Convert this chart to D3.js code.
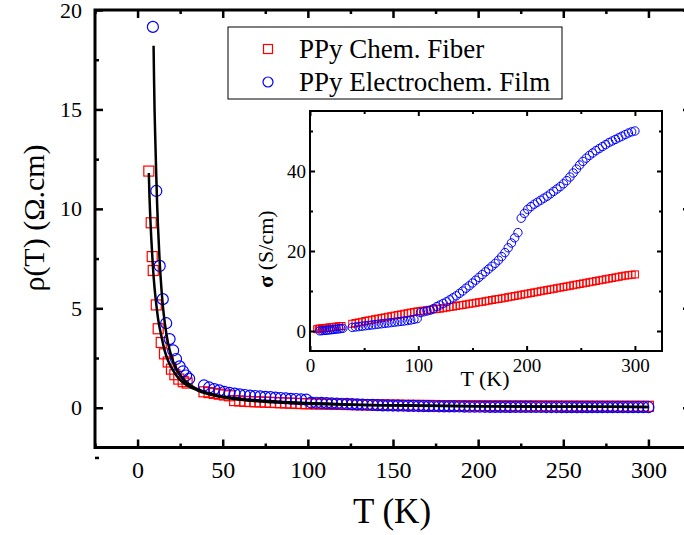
<!DOCTYPE html>
<html>
<head>
<meta charset="utf-8">
<script src="https://cdn.jsdelivr.net/npm/d3@7"></script>
<style>
  body { margin:0; background:#fff; }
  .canvas { width:684px; height:535px; overflow:hidden; }
</style>
</head>
<body>
<div class="canvas" id="canvas"></div>
<script>
//data
var tempFiberLow = [6.6, 8.0, 8.6, 9.2, 11.0, 12.1, 13.9, 15.8, 18.0, 19.9, 21.9, 24.2, 26.8, 29.1];
var rhoFiberLow = [11.9, 9.3, 7.6, 6.9, 5.17, 3.97, 3.28, 2.71, 2.3, 1.94, 1.66, 1.44, 1.31, 1.24];
var sigmaFiberLow = [0.45, 0.5, 0.55, 0.6, 0.65, 0.7, 0.75, 0.8, 0.9, 0.95, 1.0, 1.1, 1.2, 1.25];

var tempFilmLow = [9.0, 11.0, 13.0, 14.8, 16.8, 18.8, 20.9, 22.6, 24.7, 26.7, 28.5, 30.3];
var rhoFilmLow = [19.15, 10.9, 7.13, 5.46, 4.25, 3.45, 2.88, 2.45, 2.08, 1.83, 1.62, 1.46];
var sigmaFilmLow = [0.05, 0.09, 0.14, 0.18, 0.24, 0.29, 0.35, 0.41, 0.48, 0.55, 0.62, 0.68];

var tempHigh = [39,42,45,48,51,54,57,60,63,66,69,72,75,78,81,84,87,90,93,96,99,
  102,105,108,111,114,117,120,123,126,129,132,135,138,141,144,147,150,153,156,159,
  162,165,168,171,174,177,180,183,186,189,192,195,198,201,204,207,210,213,216,219,
  222,225,228,231,234,237,240,243,246,249,252,255,258,261,264,267,270,273,276,279,
  282,285,288,291,294,297,300];

var rhoFiberHigh = [0.8,0.76,0.72,0.68,0.64,0.6,0.36,0.34,0.32,0.31,0.3,0.29,0.28,0.27,0.26,0.25,0.24,0.23,0.22,0.21,0.2,
  0.2,0.19,0.19,0.18,0.18,0.17,0.17,0.16,0.16,0.15,0.15,0.15,0.14,0.14,0.14,0.13,0.13,0.13,
  0.12,0.12,0.118,0.116,0.114,0.112,0.11,0.108,0.106,0.104,0.102,0.1,0.099,0.098,0.097,0.096,0.095,0.094,0.093,0.092,
  0.091,0.09,0.089,0.088,0.087,0.086,0.085,0.084,0.083,0.082,0.081,0.08,0.079,0.078,0.078,0.077,0.077,0.076,0.076,0.075,
  0.075,0.074,0.074,0.073,0.073,0.072,0.072,0.071,0.071];

var rhoFilmHigh = [1.12,1.02,0.94,0.87,0.8,0.75,0.71,0.67,0.64,0.61,0.59,0.57,0.55,0.53,0.51,0.49,0.47,0.45,0.44,0.42,0.41,
  0.26,0.25,0.24,0.23,0.22,0.21,0.2,0.19,0.18,0.17,0.16,0.15,0.14,0.13,0.12,0.115,0.11,0.105,0.1,0.095,
  0.09,0.085,0.08,0.078,0.075,0.072,0.07,0.067,0.064,0.061,0.058,
  0.05,0.049,0.048,0.047,0.046,0.045,0.044,0.043,0.042,0.041,0.04,0.039,0.038,0.037,0.036,0.035,0.034,0.034,0.033,0.033,
  0.032,0.032,0.031,0.031,0.03,0.03,0.03,0.029,0.029,0.028,0.028,0.028,0.027,0.027,0.027,0.026];

var sigmaFiberHigh = [1.8,2.0,2.15,2.3,2.5,2.65,2.8,2.95,3.1,3.25,3.4,3.55,3.7,3.85,4.0,4.15,4.3,4.45,4.6,4.75,4.9,
  5.0,5.1,5.2,5.3,5.4,5.5,5.6,5.7,5.85,6.0,6.1,6.25,6.4,6.5,6.65,6.8,6.9,7.05,7.2,7.3,
  7.45,7.6,7.75,7.9,8.0,8.15,8.3,8.45,8.6,8.75,8.9,
  9.05,9.2,9.35,9.5,9.65,9.8,9.95,10.1,10.25,10.4,10.55,10.7,10.85,11.0,11.15,11.3,11.45,11.6,11.75,11.9,
  12.05,12.2,12.35,12.5,12.65,12.8,12.95,13.1,13.25,13.4,13.55,13.7,13.85,13.95,14.05,14.15];

var sigmaFilmHigh = [0.9,1.0,1.1,1.2,1.3,1.4,1.5,1.6,1.7,1.8,1.9,2.0,2.1,2.2,2.3,2.4,2.5,2.6,2.75,2.9,3.1,
  4.6,4.8,5.0,5.2,5.6,6.1,6.5,6.9,7.3,7.8,8.3,8.8,9.4,10.0,10.7,11.3,12.0,12.7,13.4,14.1,
  14.8,15.5,16.2,16.9,17.7,18.6,19.6,20.8,22.0,23.3,24.6,
  28.2,29.4,30.4,31.1,31.7,32.2,32.7,33.2,33.7,34.3,34.9,35.5,36.1,36.8,37.6,38.5,39.5,40.5,41.5,42.4,
  43.2,43.9,44.5,45.1,45.6,46.1,46.6,47.1,47.5,47.9,48.3,48.7,49.1,49.5,49.8,50.0];

//fit curves (black lines)
var fitFiberT = [6.6,7,7.5,8,9,10,11,12,14,16,18,20,23,26,30,35,40,50,60,80,100,130,160,200,250,300];
var fitFiberRho = [11.8,10.6,9.5,8.6,7.1,6.0,5.2,4.5,3.6,2.85,2.35,2.0,1.6,1.32,1.08,0.88,0.72,0.52,0.4,0.27,0.2,0.14,0.1,0.07,0.05,0.04];
var fitFilmT = [9.4,9.7,10,10.5,11,11.5,12,13,14,15,16,18,20,22,25,28,32,37,45,55,70,90,120,160,200,250,300];
var fitFilmRho = [18.2,16.4,14.9,13.2,11.6,10.2,9.1,7.3,6.0,5.0,4.25,3.2,2.55,2.1,1.65,1.35,1.08,0.87,0.66,0.5,0.37,0.27,0.18,0.12,0.08,0.06,0.04];

//ticks and labels
var mainXTicks = [0,50,100,150,200,250,300];
var mainXMinor = [-25,25,75,125,175,225,275];
var mainYTicks = [0,5,10,15,20];
var mainYMinor = [-2.5,2.5,7.5,12.5,17.5];
var insetXTicks = [0,100,200,300];
var insetXMinor = [50,150,250];
var insetYTicks = [0,20,40];
var insetYMinor = [10,30,50];
var legendLabels = ['PPy Chem. Fiber','PPy Electrochem. Film'];

var RED = '#ff0000', BLUE = '#0000ff';
var SERIF = 'Liberation Serif';

function zip(t, v){
  return t.map(function(d,i){ return {t:d, v:v[i]}; });
}

var fiberMain = zip(tempFiberLow, rhoFiberLow).concat(zip(tempHigh, rhoFiberHigh));
var filmMain = zip(tempFilmLow, rhoFilmLow).concat(zip(tempHigh, rhoFilmHigh));
var fiberInset = zip(tempFiberLow, sigmaFiberLow).concat(zip(tempHigh, sigmaFiberHigh));
var filmInset = zip(tempFilmLow, sigmaFilmLow).concat(zip(tempHigh, sigmaFilmHigh));

var outerWidth = 684, outerHeight = 535;

var svg = d3.select('.canvas')
  .append('svg')
  .attr('width', outerWidth)
  .attr('height', outerHeight)
  .attr('font-family', SERIF);

//main plot
var scaleX = d3.scaleLinear().domain([-25, 325]).range([95, 691]);
var scaleY = d3.scaleLinear().domain([-2, 20]).range([447.5, 10]);

function drawAxes(g, sx, sy, o){
  var x0 = sx.range()[0], x1 = sx.range()[1], y0 = sy.range()[0], y1 = sy.range()[1];
  var axes = [
    {ax: d3.axisBottom(sx), tr: 'translate(0,' + y0 + ')', major: o.xt, minor: o.xm, lab: true},
    {ax: d3.axisTop(sx), tr: 'translate(0,' + y1 + ')', major: o.xt, minor: o.xm, lab: false},
    {ax: d3.axisLeft(sy), tr: 'translate(' + x0 + ',0)', major: o.yt, minor: o.ym, lab: true},
    {ax: d3.axisRight(sy), tr: 'translate(' + x1 + ',0)', major: o.yt, minor: o.ym, lab: false}
  ];
  axes.forEach(function(a, i){
    var isX = i < 2;
    var major = g.append('g')
      .attr('transform', a.tr)
      .call(a.ax.tickValues(a.major).tickSizeInner(-o.tick).tickSizeOuter(0)
        .tickPadding(isX ? o.padX : o.padY)
        .tickFormat(a.lab ? d3.format('d') : ''));
    major.attr('font-family', SERIF).attr('font-size', isX ? o.fsX : o.fsY);
    major.select('.domain').remove();
    major.selectAll('line').attr('stroke-width', o.lw);
    var minor = g.append('g')
      .attr('transform', a.tr)
      .call(a.ax.tickValues(a.minor).tickSizeInner(-o.minorTick).tickFormat(''));
    minor.select('.domain').remove();
    minor.selectAll('line').attr('stroke-width', o.lw);
  });
  g.append('rect')
    .attr('x', x0).attr('y', y1)
    .attr('width', x1 - x0).attr('height', y0 - y1)
    .attr('fill', 'none')
    .attr('stroke', '#000')
    .attr('stroke-width', o.frame);
}

var main = svg.append('g');

drawAxes(main, scaleX, scaleY, {
  xt: mainXTicks, xm: mainXMinor, yt: mainYTicks, ym: mainYMinor,
  tick: 8, minorTick: 4, lw: 2.5, frame: 3, padX: 13, padY: 13, fsX: 24, fsY: 22
});

//markers: squares first, then circles, then fits on top
main.append('g').selectAll('rect')
  .data(fiberMain)
  .enter()
  .append('rect')
  .attr('x', function(d){ return scaleX(d.t) - 5; })
  .attr('y', function(d){ return scaleY(d.v) - 5; })
  .attr('width', 10)
  .attr('height', 10)
  .attr('fill', 'none')
  .attr('stroke', RED)
  .attr('stroke-width', 1.2);

main.append('g').selectAll('circle')
  .data(filmMain)
  .enter()
  .append('circle')
  .attr('cx', function(d){ return scaleX(d.t); })
  .attr('cy', function(d){ return scaleY(d.v); })
  .attr('r', 5.5)
  .attr('fill', 'none')
  .attr('stroke', BLUE)
  .attr('stroke-width', 1.2);

var fitLine = d3.line()
  .x(function(d){ return scaleX(d.t); })
  .y(function(d){ return scaleY(d.v); })
  .curve(d3.curveMonotoneX);

[zip(fitFiberT, fitFiberRho), zip(fitFilmT, fitFilmRho)].forEach(function(f){
  main.append('path')
    .datum(f)
    .attr('d', fitLine)
    .attr('fill', 'none')
    .attr('stroke', '#000')
    .attr('stroke-width', 2.5);
});

//axis titles
main.append('text')
  .attr('x', 392)
  .attr('y', 523)
  .attr('text-anchor', 'middle')
  .attr('font-size', 35)
  .text('T (K)');

main.append('text')
  .attr('transform', 'translate(44,218) rotate(-90)')
  .attr('text-anchor', 'middle')
  .attr('font-size', 30)
  .text('ρ(T) (Ω.cm)');

//legend
var legend = main.append('g');
legend.append('rect')
  .attr('x', 228).attr('y', 27)
  .attr('width', 334).attr('height', 72)
  .attr('fill', '#fff')
  .attr('stroke', '#000')
  .attr('stroke-width', 1);

var items = legend.selectAll('.item')
  .data(legendLabels)
  .enter()
  .append('g')
  .attr('class', 'item')
  .attr('transform', function(d, i){ return 'translate(268,' + (49 + i * 33) + ')'; });

items.filter(function(d, i){ return i === 0; })
  .append('rect')
  .attr('x', -4.5).attr('y', -4.5)
  .attr('width', 9).attr('height', 9)
  .attr('fill', 'none').attr('stroke', RED).attr('stroke-width', 1.2);

items.filter(function(d, i){ return i === 1; })
  .append('circle')
  .attr('r', 5)
  .attr('fill', 'none').attr('stroke', BLUE).attr('stroke-width', 1.2);

items.append('text')
  .attr('x', 31)
  .attr('y', 9)
  .attr('font-size', 27)
  .text(function(d){ return d; });

//inset
var insetX = d3.scaleLinear().domain([0, 325]).range([310, 662]);
var insetY = d3.scaleLinear().domain([-5, 55]).range([351, 111]);

var inset = svg.append('g');
inset.append('rect')
  .attr('x', 310).attr('y', 111)
  .attr('width', 352).attr('height', 240)
  .attr('fill', '#fff');

inset.append('g').selectAll('rect')
  .data(fiberInset)
  .enter()
  .append('rect')
  .attr('x', function(d){ return insetX(d.t) - 3.5; })
  .attr('y', function(d){ return insetY(d.v) - 3.5; })
  .attr('width', 7)
  .attr('height', 7)
  .attr('fill', 'none')
  .attr('stroke', RED)
  .attr('stroke-width', 1);

inset.append('g').selectAll('circle')
  .data(filmInset)
  .enter()
  .append('circle')
  .attr('cx', function(d){ return insetX(d.t); })
  .attr('cy', function(d){ return insetY(d.v); })
  .attr('r', 4.2)
  .attr('fill', 'none')
  .attr('stroke', BLUE)
  .attr('stroke-width', 1);

drawAxes(inset, insetX, insetY, {
  xt: insetXTicks, xm: insetXMinor, yt: insetYTicks, ym: insetYMinor,
  tick: 5, minorTick: 3, lw: 2, frame: 2, padX: 8, padY: 4, fsX: 19, fsY: 19
});

inset.append('text')
  .attr('x', 485)
  .attr('y', 386)
  .attr('text-anchor', 'middle')
  .attr('font-size', 22)
  .text('T (K)');

var sigLabel = inset.append('text')
  .attr('transform', 'translate(273,249) rotate(-90)')
  .attr('text-anchor', 'middle')
  .attr('font-size', 22);
sigLabel.append('tspan').attr('font-weight', 'bold').text('σ');
sigLabel.append('tspan').text(' (S/cm)');

svg.selectAll('text').attr('font-family', SERIF).attr('fill', '#000');
</script>
</body>
</html>
